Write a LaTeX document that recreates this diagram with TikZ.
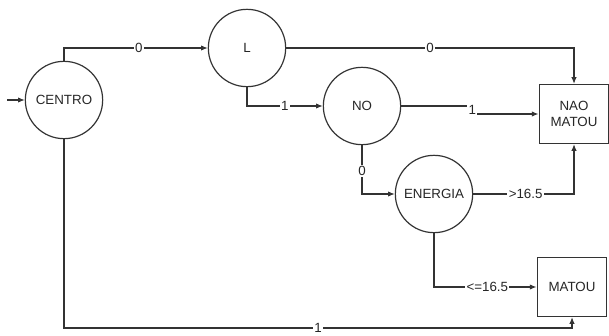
\documentclass[tikz,border=0pt]{standalone}
\usepackage{fontspec}
\setmainfont{Liberation Sans}
\usepackage{tikz}
\usetikzlibrary{arrows.meta,positioning}

\definecolor{lineg}{HTML}{333333}

\begin{document}
\begin{tikzpicture}[
  x=0.75pt, y=-0.75pt,
  every node/.style={font=\fontsize{10}{12.5}\selectfont, text=black!85},
  state/.style={draw=lineg, circle, line width=0.9pt, minimum size=58pt,
    inner sep=0pt},
  outbox/.style={draw=lineg, line width=1.2pt, minimum width=52pt,
    minimum height=44pt, align=center, inner sep=0pt},
  arr/.style={-{Latex[length=5pt,width=4pt]}, draw=lineg, line width=0.8pt},
  lbl/.style={fill=white, inner sep=1pt},
]
  \useasboundingbox (0,0) rectangle (609,335);

  % states
  \node[state] (centro) at (64,100) {CENTRO};
  \node[state] (l)      at (247,48) {L};
  \node[state] (no)     at (362,106) {NO};
  \node[state] (energia) at (434,194) {ENERGIA};

  % results
  \node[outbox] (naomatou) at (574,114) {NAO\\MATOU};
  \node[outbox] (matou)    at (572,287) {MATOU};

  \coordinate (start) at (7,100);
  \coordinate (bot) at (64,328);

  \draw[arr] (start) -- (centro.west);
  \draw[arr] (centro.north) |- node[lbl, pos=0.76] {0} (l.west);
  \draw[arr] (l.east) -| node[lbl, pos=0.25] {0} (naomatou.north);
  \draw[arr] (l.south) |- node[lbl, pos=0.75] {1} (no.west);
  \draw[arr] (no.east) -- ++(71,0) |- node[lbl, pos=0.25] {1} (naomatou.west);
  \draw[arr] (no.south) |- node[lbl, pos=0.26] {0} (energia.west);
  \draw[arr] (energia.east) -| node[lbl, pos=0.26] {>16.5} (naomatou.south);
  \draw[arr] (energia.south) |- node[lbl, pos=0.76] {<=16.5} (matou.west);
  \draw[arr] (centro.south) -- (bot) -| node[lbl, pos=0.25] {1} (matou.south);
\end{tikzpicture}
\end{document}
